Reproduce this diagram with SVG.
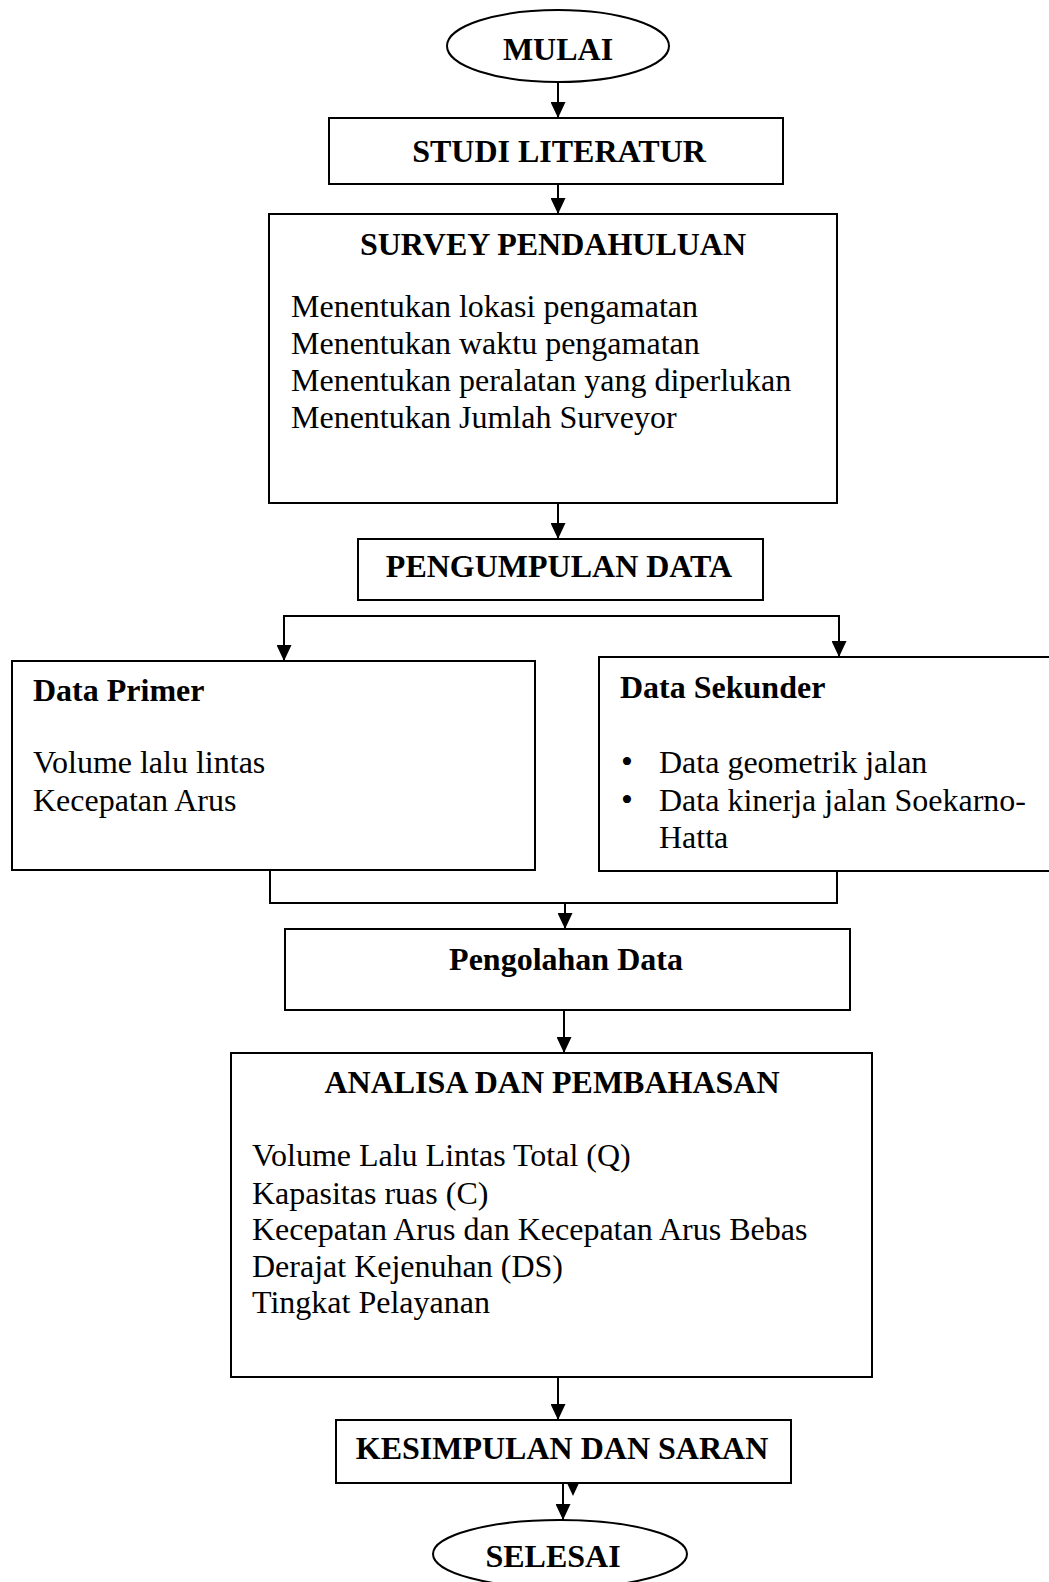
<svg xmlns="http://www.w3.org/2000/svg" width="1049" height="1582" viewBox="0 0 1049 1582">
<style>
  .box { fill: #fff; stroke: #000; stroke-width: 2; }
  .ln { fill: none; stroke: #000; stroke-width: 2; }
  .t { font-family: "Liberation Serif", "Times New Roman", serif; font-size: 32px; fill: #000; }
  .b { font-weight: bold; }
  .c { text-anchor: middle; }
  .bul { font-size: 34px; }
</style>
<defs>
  <marker id="arr" markerUnits="userSpaceOnUse" markerWidth="16" markerHeight="15" viewBox="0 0 16 15" refX="16" refY="7.5" orient="auto">
    <path d="M0,0 L16,7.5 L0,15 Z" fill="#000"/>
  </marker>
</defs>
<rect width="1049" height="1582" fill="#fff"/>
<g id="connectors">
  <line class="ln" x1="558" y1="82" x2="558" y2="118" marker-end="url(#arr)"/>
  <line class="ln" x1="558" y1="184" x2="558" y2="214" marker-end="url(#arr)"/>
  <line class="ln" x1="558" y1="503" x2="558" y2="539" marker-end="url(#arr)"/>
  <line class="ln" x1="284" y1="616" x2="839" y2="616"/>
  <line class="ln" x1="284" y1="615" x2="284" y2="661" marker-end="url(#arr)"/>
  <line class="ln" x1="839" y1="615" x2="839" y2="657" marker-end="url(#arr)"/>
  <path class="ln" d="M270,870 V903 H837 V871"/>
  <line class="ln" x1="565" y1="903" x2="565" y2="929" marker-end="url(#arr)"/>
  <line class="ln" x1="564" y1="1010" x2="564" y2="1053" marker-end="url(#arr)"/>
  <line class="ln" x1="558" y1="1377" x2="558" y2="1420" marker-end="url(#arr)"/>
  <line class="ln" x1="563" y1="1483" x2="563" y2="1520" marker-end="url(#arr)"/>
  <path d="M567,1483 L579,1483 L573,1496 Z" fill="#000"/>
</g>
<g id="mulai">
  <ellipse class="box" cx="558" cy="46" rx="111" ry="36"/>
  <text class="t b c" x="558" y="60">MULAI</text>
</g>
<g id="studi-literatur">
  <rect class="box" x="329" y="118" width="454" height="66"/>
  <text class="t b c" x="559" y="162">STUDI LITERATUR</text>
</g>
<g id="survey-pendahuluan">
  <rect class="box" x="269" y="214" width="568" height="289"/>
  <text class="t b c" x="553" y="255">SURVEY PENDAHULUAN</text>
  <text class="t" x="291" y="317">Menentukan lokasi pengamatan</text>
  <text class="t" x="291" y="354">Menentukan waktu pengamatan</text>
  <text class="t" x="291" y="391">Menentukan peralatan yang diperlukan</text>
  <text class="t" x="291" y="428">Menentukan Jumlah Surveyor</text>
</g>
<g id="pengumpulan-data">
  <rect class="box" x="358" y="539" width="405" height="61"/>
  <text class="t b c" x="559" y="577">PENGUMPULAN DATA</text>
</g>
<g id="data-primer">
  <rect class="box" x="12" y="661" width="523" height="209"/>
  <text class="t b" x="33" y="701">Data Primer</text>
  <text class="t" x="33" y="773">Volume lalu lintas</text>
  <text class="t" x="33" y="811">Kecepatan Arus</text>
</g>
<g id="data-sekunder">
  <rect class="box" x="599" y="657" width="470" height="214"/>
  <text class="t b" x="620" y="698">Data Sekunder</text>
  <text class="t" y="773"><tspan class="bul" x="621">•</tspan><tspan x="659">Data geometrik jalan</tspan></text>
  <text class="t" y="811"><tspan class="bul" x="621">•</tspan><tspan x="659">Data kinerja jalan Soekarno-</tspan></text>
  <text class="t" x="659" y="848">Hatta</text>
</g>
<g id="pengolahan-data">
  <rect class="box" x="285" y="929" width="565" height="81"/>
  <text class="t b c" x="566" y="970">Pengolahan Data</text>
</g>
<g id="analisa-pembahasan">
  <rect class="box" x="231" y="1053" width="641" height="324"/>
  <text class="t b c" x="552" y="1093">ANALISA DAN PEMBAHASAN</text>
  <text class="t" x="252" y="1166">Volume Lalu Lintas Total (Q)</text>
  <text class="t" x="252" y="1204">Kapasitas ruas (C)</text>
  <text class="t" x="252" y="1240">Kecepatan Arus dan Kecepatan Arus Bebas</text>
  <text class="t" x="252" y="1277">Derajat Kejenuhan (DS)</text>
  <text class="t" x="252" y="1313">Tingkat Pelayanan</text>
</g>
<g id="kesimpulan-saran">
  <rect class="box" x="336" y="1420" width="455" height="63"/>
  <text class="t b c" x="562" y="1459">KESIMPULAN DAN SARAN</text>
</g>
<g id="selesai">
  <ellipse class="box" cx="560" cy="1554" rx="127" ry="34"/>
  <text class="t b c" x="553" y="1567">SELESAI</text>
</g>
</svg>
